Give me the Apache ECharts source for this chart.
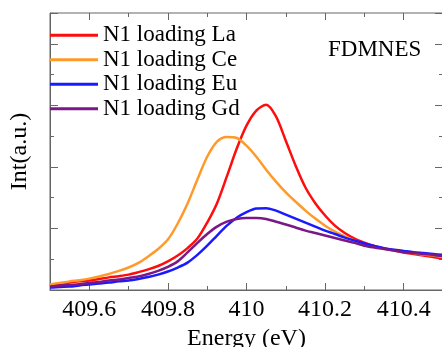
<!DOCTYPE html>
<html>
<head>
<meta charset="utf-8">
<script src="https://cdn.jsdelivr.net/npm/echarts@6/dist/echarts.min.js"></script>
<style>
html,body{margin:0;padding:0;background:#fff;}
#c{width:442px;height:347px;}
</style>
</head>
<body>
<div id="c"></div>
<script>
var energy = [409.5, 409.525, 409.55, 409.575, 409.6, 409.625, 409.65, 409.675, 409.7, 409.725,
  409.75, 409.775, 409.8, 409.825, 409.85, 409.875, 409.9, 409.925, 409.95, 409.975,
  410.0, 410.025, 410.05, 410.075, 410.1, 410.125, 410.15, 410.175, 410.2, 410.225,
  410.25, 410.275, 410.3, 410.325, 410.35, 410.375, 410.4, 410.425, 410.45, 410.475, 410.5];
var La = [0.15,0.19,0.24,0.28,0.31,0.36,0.41,0.45,0.50,0.58,
  0.67,0.78,0.93,1.12,1.36,1.67,2.19,2.82,3.69,4.59,
  5.34,5.83,6.02,5.64,4.85,4.04,3.33,2.82,2.42,2.09,
  1.85,1.67,1.54,1.43,1.35,1.28,1.22,1.17,1.12,1.07,1.02];
var Ce = [0.18,0.23,0.28,0.32,0.37,0.44,0.52,0.62,0.73,0.88,
  1.09,1.33,1.64,2.16,2.81,3.59,4.33,4.82,4.97,4.94,
  4.69,4.33,3.91,3.52,3.17,2.87,2.58,2.32,2.09,1.90,
  1.74,1.61,1.49,1.41,1.35,1.30,1.25,1.20,1.15,1.12,1.07];
var Eu = [0.08,0.10,0.11,0.15,0.18,0.21,0.24,0.28,0.31,0.36,
  0.42,0.50,0.60,0.73,0.89,1.14,1.44,1.77,2.09,2.35,
  2.53,2.65,2.66,2.58,2.45,2.32,2.19,2.06,1.93,1.82,
  1.70,1.61,1.51,1.43,1.36,1.31,1.27,1.23,1.20,1.17,1.14];
var Gd = [0.11,0.15,0.16,0.19,0.23,0.26,0.31,0.34,0.39,0.44,
  0.52,0.62,0.75,0.93,1.22,1.53,1.82,2.06,2.22,2.31,
  2.34,2.34,2.31,2.22,2.13,2.03,1.93,1.85,1.77,1.69,
  1.61,1.53,1.44,1.38,1.33,1.28,1.23,1.20,1.17,1.14,1.10];
var seriesNames = ['N1 loading La', 'N1 loading Ce', 'N1 loading Eu', 'N1 loading Gd'];
var seriesValues = [La, Ce, Eu, Gd];
var seriesColors = ['#ff0d0d', '#ff9a2a', '#1a1aff', '#7a1888'];
var xTitle = 'Energy (eV)';
var yTitle = 'Int(a.u.)';
var note = 'FDMNES';

var FONT = 'Liberation Serif';
var axisCol = '#666666';

function pairs(vals){ return energy.map(function(e,i){ return [e, vals[i]]; }); }
function clone(o){ return JSON.parse(JSON.stringify(o)); }

var chart = echarts.init(document.getElementById('c'), null, {renderer:'canvas'});
var baseX = {
  type:'value', show:true, gridIndex:0, min:409.5, max:410.5, splitNumber:5,
  axisLine:{show:false, onZero:false},
  axisLabel:{show:false},
  axisTick:{show:false},
  minorTick:{show:false},
  splitLine:{show:false}, minorSplitLine:{show:false}
};
var baseY = {
  type:'value', show:true, gridIndex:0, min:0, max:9, interval:2,
  axisLine:{show:true, onZero:false, lineStyle:{color:axisCol, width:1}},
  axisTick:{show:true, inside:true, length:8, lineStyle:{color:axisCol}},
  minorTick:{show:true, splitNumber:2, length:4, lineStyle:{color:axisCol}},
  splitLine:{show:false}, minorSplitLine:{show:false},
  axisLabel:{show:false}
};
// main bottom axis: line, labels, title
var xBottom = clone(baseX);
xBottom.position = 'bottom';
xBottom.axisLine = {show:true, onZero:false, lineStyle:{color:axisCol, width:1}};
xBottom.axisLabel = {show:true, showMinLabel:false, showMaxLabel:false, margin:8, fontFamily:FONT, fontSize:24, color:'#000'};
xBottom.name = xTitle; xBottom.nameLocation = 'middle'; xBottom.nameGap = 32;
xBottom.nameTextStyle = {fontFamily:FONT, fontSize:24, color:'#000'};
// tick-only axes shifted inward so outward ticks point into the plot
function tickAxis(pos, off, major){
  var a = clone(baseX);
  a.position = pos; a.offset = off;
  if (major) { a.axisTick = {show:true, inside:false, length:7, lineStyle:{color:axisCol, width:1}}; }
  else { a.minorTick = {show:true, splitNumber:2, length:4, lineStyle:{color:axisCol, width:1}}; }
  return a;
}
var yLeft = clone(baseY);
yLeft.position = 'left'; yLeft.name = yTitle; yLeft.nameLocation = 'middle'; yLeft.nameGap = 18;
yLeft.nameTextStyle = {fontFamily:FONT, fontSize:24, color:'#000'};
var yRight = clone(baseY);
yRight.position = 'right';

var option = {
  animation:false,
  backgroundColor:'#ffffff',
  grid:{left:50, top:13, width:393, height:277, containLabel:false, outerBoundsMode:'none',
    show:true, borderColor:axisCol, borderWidth:1, backgroundColor:'transparent'},
  title:{text:note, left:328, top:38, padding:0, textStyle:{fontFamily:FONT, fontSize:23, fontWeight:'normal', color:'#000'}},
  legend:{
    orient:'vertical', left:50, top:23, itemGap:0, itemWidth:48, itemHeight:3, icon:'rect',
    padding:0,
    textStyle:{fontFamily:FONT, fontSize:23, color:'#000', lineHeight:24.5},
    data:seriesNames
  },
  xAxis:[xBottom, tickAxis('top', -7, true), tickAxis('top', -4, false), tickAxis('bottom', -7, true), tickAxis('bottom', -4, false)],
  yAxis:[yLeft, yRight],
  series: seriesNames.map(function(n,i){
    return {name:n, type:'line', data:pairs(seriesValues[i]), smooth:0.3, symbol:'none', showSymbol:false,
      lineStyle:{color:seriesColors[i], width:2.5}, itemStyle:{color:seriesColors[i]}, xAxisIndex:0, yAxisIndex:0};
  })
};
chart.setOption(option);
</script>
</body>
</html>
